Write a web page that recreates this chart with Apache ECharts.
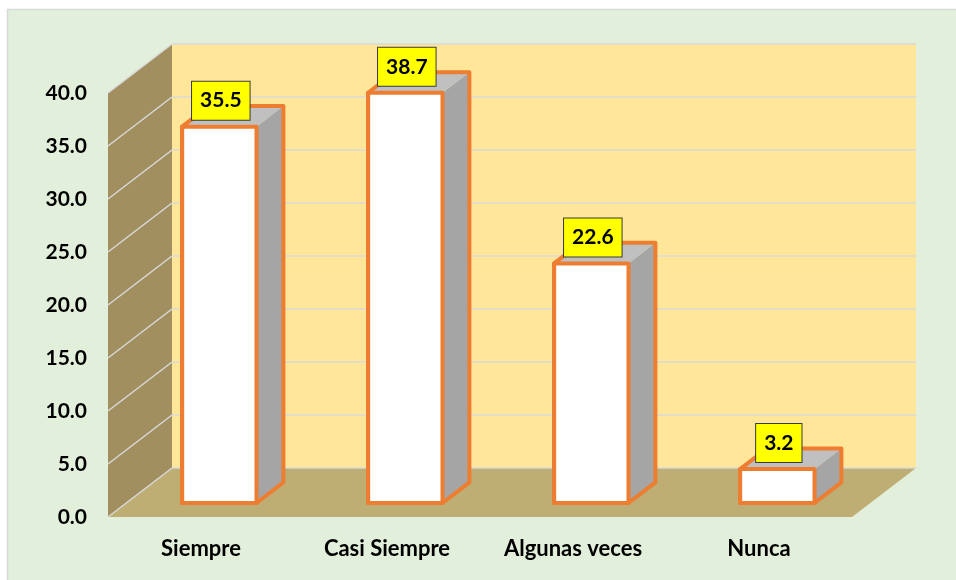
<!DOCTYPE html>
<html>
<head>
<meta charset="utf-8">
<script src="https://cdn.jsdelivr.net/npm/echarts@6/dist/echarts.min.js"></script>
<style>
html,body{margin:0;padding:0;background:#fff;}
#chart{width:956px;height:580px;}
</style>
</head>
<body>
<div id="chart"></div>
<script>
// ---- data ----
const categories = ['Siempre', 'Casi Siempre', 'Algunas veces', 'Nunca'];
const values = [35.5, 38.7, 22.6, 3.2];
const yTicks = [0, 5, 10, 15, 20, 25, 30, 35, 40];

// ---- style / 3D layout constants ----
const DX = 64, DY = -49;          // depth vector of the plot box
const F0 = 0.286, FD = 0.42;      // bar front depth fraction, bar depth fraction
const BAR_W = 0.4;                // bar width as fraction of band
const FONT = 'bold 21px Lato, "Open Sans", sans-serif';

const chart = echarts.init(document.getElementById('chart'), null, {renderer: 'canvas'});

function wallsRender(params, api) {
  if (params.dataIndex !== 0) return null;
  const cs = params.coordSys;
  const L = cs.x, R = cs.x + cs.width;
  const yTop = api.coord([0, yTicks[yTicks.length - 1]])[1];
  const yBot = api.coord([0, yTicks[0]])[1];
  const children = [];
  children.push({type: 'rect', shape: {x: L + DX, y: yTop + DY, width: R - L, height: yBot - yTop},
    style: {fill: '#FFE699'}});
  children.push({type: 'polygon', shape: {points: [[L, yTop], [L + DX, yTop + DY], [L + DX, yBot + DY], [L, yBot]]},
    style: {fill: '#A28F60'}});
  children.push({type: 'polygon', shape: {points: [[L, yBot], [L + DX, yBot + DY], [R + DX, yBot + DY], [R, yBot]]},
    style: {fill: '#BFAE73'}});
  yTicks.forEach(function (t) {
    const y = api.coord([0, t])[1];
    children.push({type: 'line', shape: {x1: L + DX, y1: y + DY, x2: R + DX, y2: y + DY},
      style: {stroke: '#D9D9D9', lineWidth: 1.5}});
    children.push({type: 'line', shape: {x1: L, y1: y, x2: L + DX, y2: y + DY},
      style: {stroke: '#D9D9D9', lineWidth: 1.5}});
  });
  return {type: 'group', children: children};
}

function barRender(params, api) {
  const i = api.value(0), v = api.value(1);
  const base = api.coord([i, 0]);
  const top = api.coord([i, v]);
  const band = api.size([1, 0])[0];
  const w = band * BAR_W;
  const cx = base[0] + F0 * DX;
  const y0 = base[1] + F0 * DY;
  const yt = top[1] + F0 * DY;
  const x0 = cx - w / 2, x1 = cx + w / 2;
  const ddx = FD * DX, ddy = FD * DY;
  const orange = '#ED7D31';
  return {
    type: 'group',
    children: [
      {type: 'polygon', shape: {points: [[x1, yt], [x1 + ddx, yt + ddy], [x1 + ddx, y0 + ddy], [x1, y0]]},
        style: {fill: '#A5A5A5'}},
      {type: 'polygon', shape: {points: [[x0, yt], [x0 + ddx, yt + ddy], [x1 + ddx, yt + ddy], [x1, yt]]},
        style: {fill: '#C0C0C0'}},
      {type: 'rect', shape: {x: x0, y: yt, width: w, height: y0 - yt},
        style: {fill: '#FFFFFF', stroke: orange, lineWidth: 4, lineJoin: 'round'}},
      {type: 'polygon', shape: {points: [[x0, y0], [x0, yt], [x0 + ddx, yt + ddy], [x1 + ddx, yt + ddy], [x1 + ddx, y0 + ddy], [x1, y0]]},
        style: {fill: null, stroke: orange, lineWidth: 4, lineJoin: 'round'}},
      {type: 'text', x: cx + 1.5, y: yt - 26,
        style: {text: v.toFixed(1), font: FONT, fill: '#000', align: 'center', verticalAlign: 'middle',
          backgroundColor: '#FFFF00', borderColor: '#3A3A3A', borderWidth: 1, padding: [8, 8, 6, 8], lineHeight: 24}}
    ]
  };
}

chart.setOption({
  backgroundColor: '#FFFFFF',
  animation: false,
  graphic: {elements: [{type: 'rect', z: -10, shape: {x: 7.5, y: 9.5, width: 980, height: 600},
    style: {fill: '#E2EFDA', stroke: '#D9D9D9', lineWidth: 1.5}}]},
  grid: {left: 108, top: 93, right: 104, bottom: 63, containLabel: false},
  xAxis: {
    type: 'category', data: categories,
    axisLine: {show: false}, axisTick: {show: false}, splitLine: {show: false},
    axisLabel: {margin: 21, color: '#000', fontFamily: 'Lato', fontWeight: 'bold', fontSize: 22}
  },
  yAxis: {
    type: 'value', min: yTicks[0], max: yTicks[yTicks.length - 1], interval: yTicks[1] - yTicks[0],
    axisLine: {show: false}, axisTick: {show: false}, splitLine: {show: false},
    axisLabel: {margin: 21, color: '#000', fontFamily: 'Lato', fontWeight: 'bold', fontSize: 21,
      padding: [8, 0, 0, 0],
      formatter: function (v) { return v.toFixed(1); }}
  },
  series: [
    {type: 'custom', name: 'walls', renderItem: wallsRender, data: [[0, 0]], silent: true, z: 1},
    {type: 'custom', name: 'bars', renderItem: barRender, z: 2,
      data: values.map(function (v, i) { return [i, v]; })}
  ]
});
</script>
</body>
</html>
